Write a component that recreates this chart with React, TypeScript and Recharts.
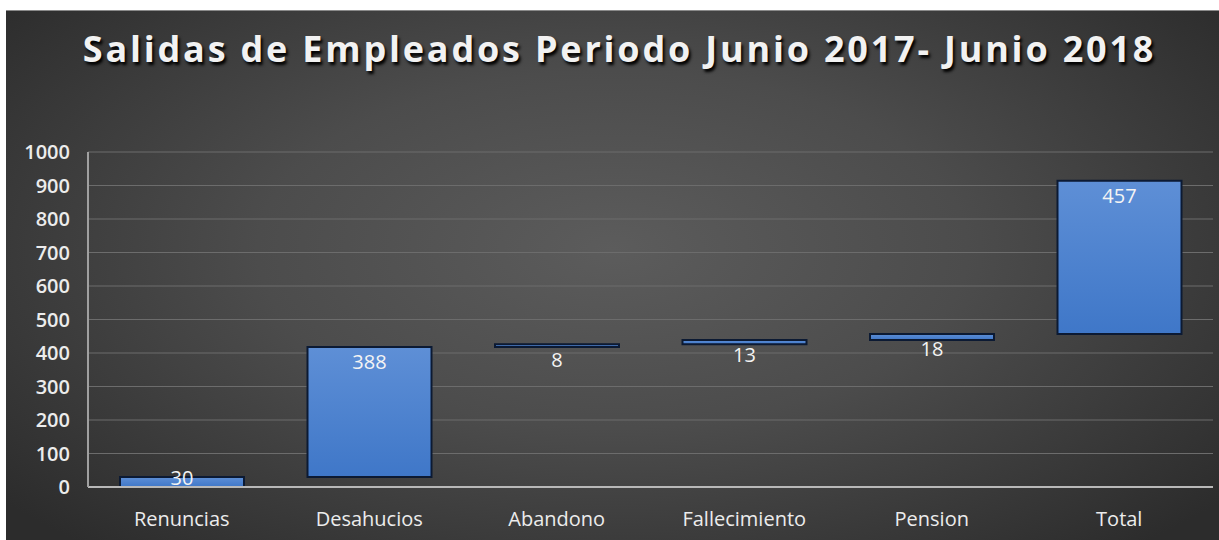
import React from "react";
import { BarChart, Bar, XAxis, YAxis, CartesianGrid, LabelList } from "recharts";

const categories = ["Renuncias", "Desahucios", "Abandono", "Fallecimiento", "Pension", "Total"];
const values = [30, 388, 8, 13, 18, 457];
const offsets = [0, 30, 418, 426, 439, 457];
const yTicks = [0, 100, 200, 300, 400, 500, 600, 700, 800, 900, 1000];
const title = "Salidas de Empleados Periodo Junio 2017- Junio 2018";

const rows = categories.map((name, i) => ({ name, base: offsets[i], value: values[i] }));

const FONT = "'Open Sans', 'Noto Sans', sans-serif";
const PLOT_BOTTOM = 487;

const renderLabel = (props: any) => {
  const { x, y, width, value } = props;
  const cy = Math.min(Number(y) + 15, PLOT_BOTTOM - 10);
  return (
    <text
      x={Number(x) + Number(width) / 2}
      y={cy}
      fill="#f4f4f4"
      fontSize={20}
      fontFamily={FONT}
      textAnchor="middle"
      dominantBaseline="central"
    >
      {value}
    </text>
  );
};

export default function App() {
  return (
    <div style={{ position: "absolute", left: 0, top: 0, width: 1219, height: 540, background: "#ffffff", overflow: "hidden" }}>
      <div
        style={{
          position: "absolute",
          left: 6,
          top: 10,
          width: 1213,
          height: 530,
          background: "radial-gradient(ellipse 65% 75% at 50% 45%, #5c5c5c 0%, #4c4c4c 45%, #2c2c2c 100%)",
          borderTop: "1px solid #8a8a8a",
        }}
      />
      <div
        style={{
          position: "absolute",
          left: 6,
          top: 24,
          width: 1213,
          paddingLeft: 14,
          boxSizing: "border-box",
          textAlign: "center",
          fontFamily: FONT,
          fontWeight: 700,
          fontSize: 36,
          lineHeight: "normal",
          letterSpacing: 2.8,
          color: "#f2f2f2",
          textShadow: "2px 3px 3px #000000",
          whiteSpace: "nowrap",
        }}
      >
        {title}
      </div>
      <div style={{ position: "absolute", left: 0, top: 0 }}>
        <BarChart width={1219} height={540} data={rows} margin={{ top: 152, right: 6, bottom: 23, left: 0 }}>
          <defs>
            <linearGradient id="barFill" x1="0" y1="0" x2="0" y2="1">
              <stop offset="0%" stopColor="#5e8fd6" />
              <stop offset="100%" stopColor="#3f77c8" />
            </linearGradient>
          </defs>
          <CartesianGrid vertical={false} stroke="#6c6c6c" strokeWidth={1} />
          <XAxis
            dataKey="name"
            height={30}
            tickSize={0}
            tickMargin={25}
            tickLine={false}
            axisLine={{ stroke: "#b8b8b8", strokeWidth: 2 }}
            tick={{ fill: "#ececec", fontSize: 20, fontFamily: FONT }}
            interval={0}
          />
          <YAxis
            width={88}
            domain={[0, 1000]}
            ticks={yTicks}
            tickSize={0}
            tickMargin={18}
            tickLine={false}
            axisLine={{ stroke: "#a0a0a0", strokeWidth: 2 }}
            tick={{ fill: "#ececec", fontSize: 20, fontFamily: FONT, fontWeight: 600 }}
            interval={0}
          />
          <Bar dataKey="base" stackId="w" fill="transparent" isAnimationActive={false} barSize={124} />
          <Bar
            dataKey="value"
            stackId="w"
            fill="url(#barFill)"
            stroke="#0c1a33"
            strokeWidth={2}
            isAnimationActive={false}
            barSize={124}
          >
            <LabelList dataKey="value" content={renderLabel} />
          </Bar>
        </BarChart>
      </div>
    </div>
  );
}
